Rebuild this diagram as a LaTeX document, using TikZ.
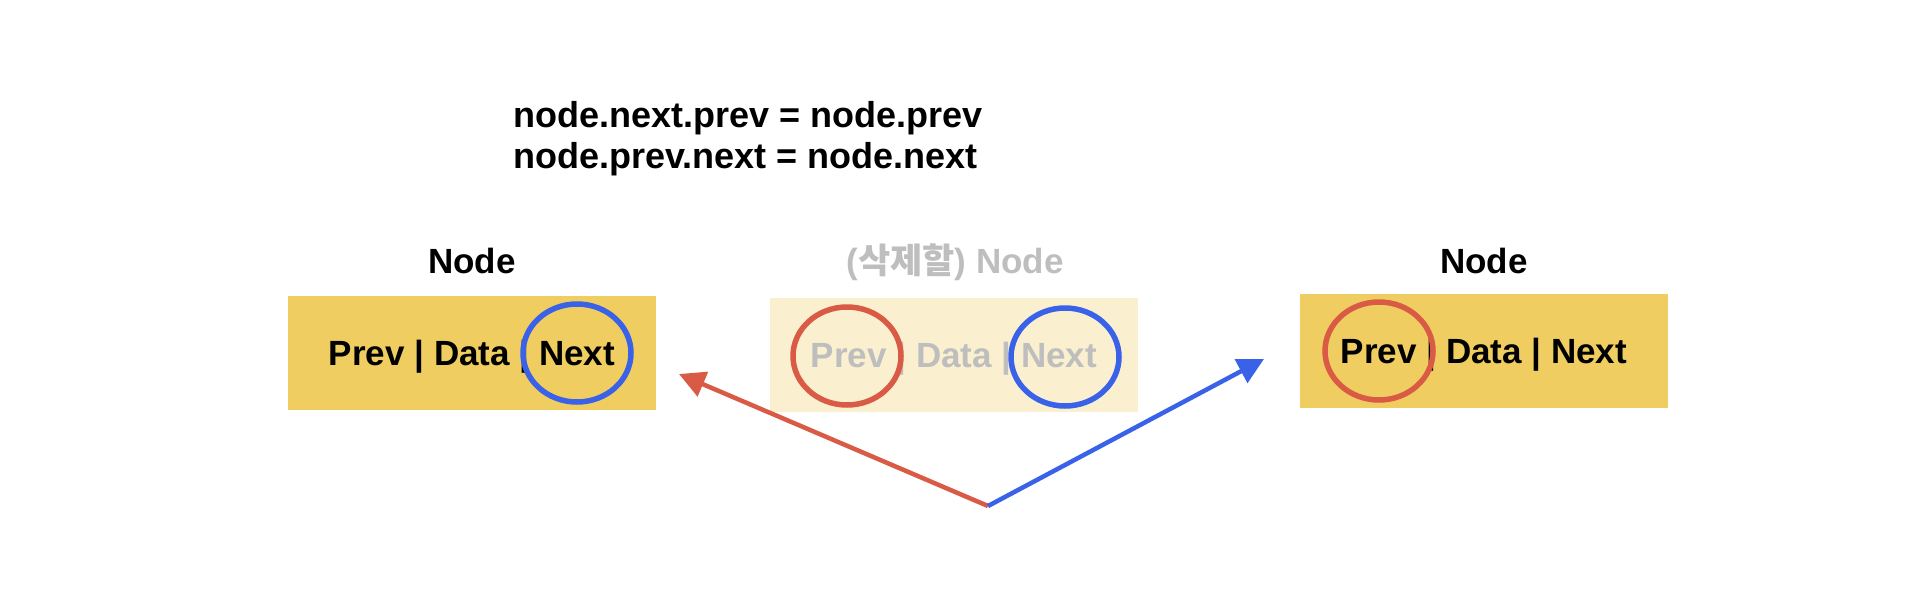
\documentclass[tikz,border=0pt]{standalone}
\usepackage{fontspec}
\setmainfont{Liberation Sans}
\newfontfamily\kofont{Noto Sans CJK KR}
\usetikzlibrary{arrows.meta,shapes.geometric}

\definecolor{nodeyellow}{RGB}{240,205,96}
\definecolor{nodepale}{RGB}{250,240,208}
\definecolor{linkred}{RGB}{217,91,69}
\definecolor{linkblue}{RGB}{57,98,232}
\definecolor{deadgray}{RGB}{190,190,190}

\tikzset{
  bigtext/.style={font=\fontsize{35}{39}\selectfont\bfseries},
  cell/.style={bigtext, minimum width=368pt, minimum height=114pt, inner sep=0pt,
               text height=25pt, text depth=0pt},
  ring/.style={ellipse, draw, line width=5.5pt, minimum width=108pt,
               minimum height=98pt, inner sep=0pt},
  link/.style={line width=4.5pt, -{Triangle[length=26pt,width=26pt]}}
}

\begin{document}
\begin{tikzpicture}[x=1pt,y=-1pt]
  \useasboundingbox (0,0) rectangle (1908,610);

  % code
  \node[font=\fontsize{36}{41}\selectfont\bfseries, anchor=base west, align=left] (code) at (510,168)
    {node.next.prev = node.prev\\node.prev.next = node.next};

  % titles
  \node[bigtext, anchor=base] (prevtitle) at (472,273) {Node};
  \node[bigtext, anchor=base, text=deadgray] (deltitle) at (955,273)
    {({\kofont 삭제할}) Node};
  \node[bigtext, anchor=base] (nexttitle) at (1484,273) {Node};

  % nodes
  \node[cell, fill=nodeyellow] (prevnode) at (472,353) {Prev | Data | Next};
  \node[cell, fill=nodepale, text=deadgray] (delnode) at (954,355) {Prev | Data | Next};
  \node[cell, fill=nodeyellow] (nextnode) at (1484,351) {Prev | Data | Next};

  % highlighted fields
  \node[ring, linkblue] (prevnext) at (577,353) {};
  \node[ring, linkred] (delprev) at (847,356) {};
  \node[ring, linkblue] (delnext) at (1065,357) {};
  \node[ring, linkred] (nextprev) at (1379,351) {};

  % links
  \coordinate (root) at (988,506);
  \coordinate (tipL) at (679,374);
  \coordinate (tipR) at (1264,359);
  \draw[link, linkred] (root) -- (tipL);
  \draw[link, linkblue] (root) -- (tipR);
\end{tikzpicture}
\end{document}
